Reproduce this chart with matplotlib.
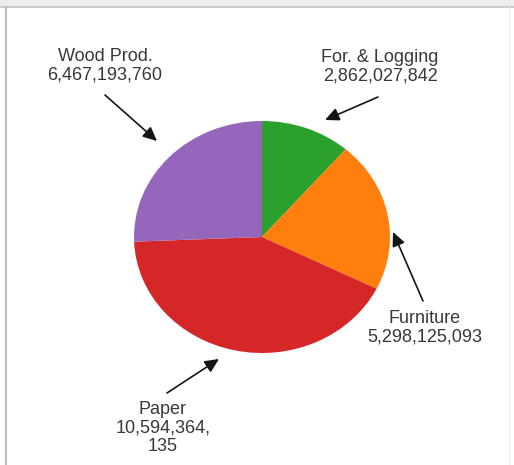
import numpy as np
import matplotlib
matplotlib.use("Agg")
import matplotlib.pyplot as plt
from matplotlib.patches import Rectangle
from matplotlib.lines import Line2D

# output value by sector
sectors = ["For. & Logging", "Furniture", "Paper", "Wood Prod."]
values = [2862027842, 5298125093, 10594364135, 6467193760]
value_text = ["2,862,027,842", "5,298,125,093", "10,594,364,\n135", "6,467,193,760"]
colors = ["#2ca02c", "#ff7f0e", "#d62728", "#9467bd"]

W, H = 514, 465
fig = plt.figure(figsize=(W / 100, H / 100), dpi=100)
fig.patch.set_facecolor("white")

# window-like frame around the chart
fig.patches.append(Rectangle((0, 1 - 7 / H), 1, 7 / H, transform=fig.transFigure,
                             facecolor="#ededed", edgecolor="none", zorder=0))
fig.lines.append(Line2D([0, 1], [1 - 7 / H, 1 - 7 / H], transform=fig.transFigure,
                        color="#c4c4c4", lw=1.2))
fig.lines.append(Line2D([6 / W, 6 / W], [0, 1 - 7 / H], transform=fig.transFigure,
                        color="#bcbcbc", lw=1.5))
fig.lines.append(Line2D([509 / W, 509 / W], [0, 1 - 7 / H], transform=fig.transFigure,
                        color="#f0f0f0", lw=1.0))

# pie sits in an axes a little wider than tall
cx, cy, rx, ry = 262, 237, 128, 116
ax = fig.add_axes([(cx - rx) / W, (H - cy - ry) / H, 2 * rx / W, 2 * ry / H])
ax.pie(values, colors=colors, startangle=90, counterclock=False,
       wedgeprops=dict(linewidth=0))
ax.set_aspect("auto")
ax.set_xlim(-1, 1)
ax.set_ylim(-1, 1)
ax.axis("off")

# label placement (pixels from top-left): text centre, arrow tail, arrow tip
label_pos = [(380, 67), (425, 328), (163, 428), (105, 66)]
arrow_tail = [(378, 97), (423, 301), (167, 393), (105, 95)]
arrow_tip = [(325, 120), (393, 232), (219, 359), (157, 141)]


def px(p):
    return (p[0], H - p[1])


for name, txt, lp, tail, tip in zip(sectors, value_text, label_pos, arrow_tail, arrow_tip):
    fig.text(lp[0] / W, 1 - lp[1] / H, f"{name}\n{txt}", ha="center", va="center",
             fontsize=13, family="Liberation Sans", color="#383838", linespacing=1.12)
    ax.annotate("", xy=px(tip), xycoords="figure pixels",
                xytext=px(tail), textcoords="figure pixels",
                arrowprops=dict(arrowstyle="-|>,head_length=0.6,head_width=0.28",
                                color="#151515", lw=1.2, mutation_scale=14,
                                shrinkA=0, shrinkB=0))

fig.savefig("out.png", dpi=100)
